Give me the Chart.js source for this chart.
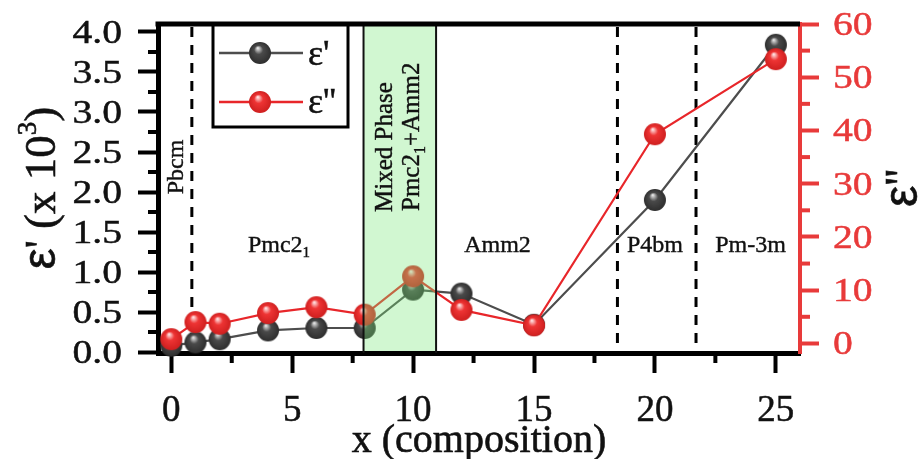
<!DOCTYPE html>
<html>
<head>
<meta charset="utf-8">
<script src="https://cdn.jsdelivr.net/npm/chart.js@4.4.0/dist/chart.umd.min.js"></script>
<style>
  html, body { margin: 0; padding: 0; background: #fff; }
  #wrap { width: 922px; height: 459px; position: relative; }
  .probe { position: absolute; left: -9999px; top: 0; }
</style>
</head>
<body>
<div id="wrap"><canvas id="c" width="922" height="459"></canvas></div>
<span class="probe" style="font-family:'Liberation Serif'">Pmc2 0.5 ε</span>
<span class="probe" style="font-family:'Liberation Sans'">ε</span>
<script>
// Composition x and dielectric constants
const composition = [0, 1, 2, 4, 6, 8, 10, 12, 15, 20, 25];
const epsReal = [0.08, 0.12, 0.16, 0.27, 0.30, 0.30, 0.78, 0.73, 0.34, 1.90, 3.84];   // ε' (x 10^3)
const epsImag = [0.8, 4.0, 3.7, 5.7, 6.8, 5.4, 12.6, 6.3, 3.4, 39.3, 53.4];            // ε''

// Axis ticks
const xTicks = [0, 5, 10, 15, 20, 25];
const leftTicks = [0, 0.5, 1.0, 1.5, 2.0, 2.5, 3.0, 3.5, 4.0];
const rightTicks = [0, 10, 20, 30, 40, 50, 60];

// Phase boundaries and labels
const phaseBoundaries = [0.85, 18.45, 21.7];
const mixedRegion = [7.95, 10.95];
const phaseLabels = [
  { runs: [['Pmc2', 0], ['1', 1]], x: 279, baseline: 252 },
  { runs: [['Amm2', 0]], x: 497.5, baseline: 252 },
  { runs: [['P4bm', 0]], x: 655, baseline: 252 },
  { runs: [['Pm-3m', 0]], x: 750.5, baseline: 252 }
];

const SERIF = "'Liberation Serif', 'Times New Roman', Times, serif";
const SANS = "'Liberation Sans', Arial, Helvetica, sans-serif";
const RED = '#e8262a';
const AXIS_RED = '#e83a3a';
const GREY_LINE = '#4d4d4d';
const INK = '#111';

// Shaded ball markers
function ball(light, base, dark, r) {
  const c = document.createElement('canvas');
  const s = Math.ceil(r * 2) + 2;
  c.width = c.height = s;
  const g = c.getContext('2d');
  const cx = s / 2, cy = s / 2;
  const grad = g.createRadialGradient(cx - r * 0.2, cy - r * 0.45, r * 0.04, cx, cy, r);
  grad.addColorStop(0, light);
  grad.addColorStop(0.38, base);
  grad.addColorStop(1, dark);
  g.fillStyle = grad;
  g.beginPath();
  g.arc(cx, cy, r, 0, Math.PI * 2);
  g.fill();
  return c;
}
const greyBall = ball('#e6e6e6', '#4a4a4a', '#2e2e2e', 11);
const redBall = ball('#ffe4e4', '#ee3434', '#cf1f1f', 11);

// Text runs with slight stroke for heavier print-like glyphs
function drawRuns(ctx, runs, x, y, align, stroke) {
  let total = 0;
  runs.forEach(r => { ctx.font = r.font; r.w = ctx.measureText(r.t).width; total += r.w; });
  let cx = align === 'center' ? x - total / 2 : (align === 'right' ? x - total : x);
  ctx.textAlign = 'left';
  ctx.textBaseline = 'alphabetic';
  ctx.strokeStyle = ctx.fillStyle;
  ctx.lineWidth = stroke || 0.5;
  runs.forEach(r => {
    ctx.font = r.font;
    ctx.fillText(r.t, cx, y + (r.dy || 0));
    ctx.strokeText(r.t, cx, y + (r.dy || 0));
    cx += r.w;
  });
}

function labelRuns(spec, size) {
  return spec.map(([t, sub]) => sub
    ? { t, font: `${Math.round(size * 0.62)}px ${SERIF}`, dy: size * 0.22 }
    : { t, font: `${size}px ${SERIF}`, dy: 0 });
}

const decorations = {
  id: 'decorations',
  beforeDatasetsDraw(chart) {
    const { ctx, chartArea: a, scales } = chart;
    ctx.save();
    ctx.strokeStyle = '#000';
    ctx.lineWidth = 3;
    ctx.setLineDash([10, 8]);
    phaseBoundaries.forEach(v => {
      const px = scales.x.getPixelForValue(v);
      ctx.beginPath();
      ctx.moveTo(px, a.top + 3);
      ctx.lineTo(px, a.bottom - 2);
      ctx.stroke();
    });
    ctx.restore();
  },
  afterDatasetsDraw(chart) {
    const { ctx, chartArea: a, scales } = chart;
    const x0 = scales.x.getPixelForValue(mixedRegion[0]);
    const x1 = scales.x.getPixelForValue(mixedRegion[1]);
    ctx.save();
    // mixed-phase band
    ctx.fillStyle = 'rgba(120, 232, 120, 0.34)';
    ctx.fillRect(x0, a.top + 2, x1 - x0, a.bottom - a.top - 4);
    ctx.strokeStyle = INK;
    ctx.lineWidth = 2;
    [x0, x1].forEach(px => {
      ctx.beginPath();
      ctx.moveTo(px, a.top);
      ctx.lineTo(px, a.bottom);
      ctx.stroke();
    });

    ctx.fillStyle = INK;
    // rotated labels
    const rot = (bx, by, runs, align) => {
      ctx.save();
      ctx.translate(bx, by);
      ctx.rotate(-Math.PI / 2);
      drawRuns(ctx, runs, 0, 0, align, 0.4);
      ctx.restore();
    };
    rot(183, 167, labelRuns([['Pbcm', 0]], 24), 'center');
    rot(392, 212, labelRuns([['Mixed Phase', 0]], 25), 'left');
    rot(419, 211, labelRuns([['Pmc2', 0], ['1', 1], ['+Amm2', 0]], 25), 'left');

    ctx.fillStyle = INK;
    phaseLabels.forEach(p => drawRuns(ctx, labelRuns(p.runs, 24), p.x, p.baseline, 'center', 0.4));

    // legend
    const lx0 = 213, ly0 = 24, lx1 = 348, ly1 = 127;
    ctx.fillStyle = '#fff';
    ctx.fillRect(lx0, ly0, lx1 - lx0, ly1 - ly0);
    ctx.strokeStyle = '#000';
    ctx.lineWidth = 3;
    ctx.strokeRect(lx0, ly0, lx1 - lx0, ly1 - ly0);
    const entries = [
      { color: GREY_LINE, img: greyBall, y: 53, text: "ε'", base: 65 },
      { color: RED, img: redBall, y: 102, text: "ε''", base: 113 }
    ];
    entries.forEach(e => {
      ctx.strokeStyle = e.color;
      ctx.lineWidth = 2.5;
      ctx.beginPath();
      ctx.moveTo(219, e.y);
      ctx.lineTo(303, e.y);
      ctx.stroke();
      ctx.drawImage(e.img, 260 - e.img.width / 2, e.y - e.img.height / 2);
      ctx.fillStyle = INK;
      drawRuns(ctx, [{ t: e.text, font: `36px ${SERIF}` }], 308, e.base, 'left', 0.5);
    });

    // top frame line
    ctx.strokeStyle = '#000';
    ctx.lineWidth = 5;
    ctx.beginPath();
    ctx.moveTo(a.left - 2.5, a.top);
    ctx.lineTo(a.right, a.top);
    ctx.stroke();
    ctx.restore();
  },
  afterDraw(chart) {
    const { ctx, chartArea: a, scales } = chart;
    ctx.save();
    // minor ticks
    const minor = (ticks) => ticks.slice(1).map((v, i) => (v + ticks[i]) / 2);
    ctx.lineWidth = 4;
    ctx.strokeStyle = '#000';
    minor(leftTicks).forEach(v => {
      const py = scales.y.getPixelForValue(v);
      ctx.beginPath(); ctx.moveTo(a.left - 10, py); ctx.lineTo(a.left, py); ctx.stroke();
    });
    minor(xTicks).forEach(v => {
      const px = scales.x.getPixelForValue(v);
      ctx.beginPath(); ctx.moveTo(px, a.bottom); ctx.lineTo(px, a.bottom + 10); ctx.stroke();
    });
    ctx.strokeStyle = AXIS_RED;
    minor(rightTicks).forEach(v => {
      const py = scales.y2.getPixelForValue(v);
      ctx.beginPath(); ctx.moveTo(a.right, py); ctx.lineTo(a.right + 10, py); ctx.stroke();
    });

    // y tick labels (wide serif digits)
    const wideLabel = (text, x, y, align, color) => {
      ctx.save();
      ctx.translate(x, y);
      ctx.scale(1.2, 1);
      ctx.fillStyle = color;
      drawRuns(ctx, [{ t: text, font: `33px ${SERIF}` }], 0, 0, align, 0.5);
      ctx.restore();
    };
    leftTicks.forEach(v => wideLabel(v.toFixed(1), 122, scales.y.getPixelForValue(v) + 11, 'right', INK));
    rightTicks.forEach(v => wideLabel(String(v), 833, scales.y2.getPixelForValue(v) + 11, 'left', AXIS_RED));

    // axis titles
    ctx.fillStyle = INK;
    drawRuns(ctx, [{ t: 'x (composition)', font: `40px ${SERIF}` }], (a.left + a.right) / 2, 452, 'center', 0.6);
    const rotTitle = (bx, cy, runs) => {
      ctx.save();
      ctx.translate(bx, cy);
      ctx.rotate(-Math.PI / 2);
      ctx.fillStyle = INK;
      drawRuns(ctx, runs, 0, 0, 'center', 0.6);
      ctx.restore();
    };
    rotTitle(55, 188, [
      { t: 'ε', font: `47px ${SANS}` },
      { t: "' (x 10", font: `45px ${SERIF}` },
      { t: '3', font: `27px ${SERIF}`, dy: -19 },
      { t: ')', font: `45px ${SERIF}` }
    ]);
    rotTitle(917, 188, [
      { t: 'ε', font: `48px ${SANS}` },
      { t: "''", font: `46px ${SERIF}` }
    ]);
    ctx.restore();
  }
};

const toPoints = (ys) => composition.map((x, i) => ({ x, y: ys[i] }));

function build() {
  new Chart(document.getElementById('c'), {
    type: 'line',
    data: {
      datasets: [
        {
          label: "ε''",
          data: toPoints(epsImag),
          yAxisID: 'y2',
          borderColor: RED,
          borderWidth: 2.2,
          pointStyle: redBall,
          pointRadius: 11,
          order: 0,
          clip: false,
          tension: 0
        },
        {
          label: "ε'",
          data: toPoints(epsReal),
          yAxisID: 'y',
          borderColor: GREY_LINE,
          borderWidth: 2.2,
          pointStyle: greyBall,
          pointRadius: 11,
          order: 1,
          clip: false,
          tension: 0
        }
      ]
    },
    options: {
      responsive: false,
      animation: false,
      devicePixelRatio: 1,
      layout: { padding: { top: 24, left: 0, right: 0, bottom: 0 } },
      plugins: { legend: { display: false }, tooltip: { enabled: false } },
      scales: {
        x: {
          type: 'linear',
          position: 'bottom',
          min: -0.55,
          max: 26,
          afterBuildTicks: s => { s.ticks = xTicks.map(v => ({ value: v })); },
          afterFit: s => { s.height = 459 - 353; },
          grid: { display: true, drawOnChartArea: false, drawTicks: true, tickLength: 20, tickWidth: 4, tickColor: '#000' },
          border: { display: true, width: 5, color: '#000' },
          ticks: { font: { family: SERIF, size: 37 }, color: INK, padding: 16, maxRotation: 0,
                   textStrokeColor: INK, textStrokeWidth: 0.5 }
        },
        y: {
          type: 'linear',
          position: 'left',
          min: -0.0125,
          max: 4.1,
          afterBuildTicks: s => { s.ticks = leftTicks.map(v => ({ value: v })); },
          afterFit: s => { s.width = 158; },
          grid: { display: true, drawOnChartArea: false, drawTicks: true, tickLength: 20, tickWidth: 4, tickColor: '#000' },
          border: { display: true, width: 5, color: '#000' },
          ticks: { display: false }
        },
        y2: {
          type: 'linear',
          position: 'right',
          min: -1.8,
          max: 60,
          afterBuildTicks: s => { s.ticks = rightTicks.map(v => ({ value: v })); },
          afterFit: s => { s.width = 922 - 800; },
          grid: { display: true, drawOnChartArea: false, drawTicks: true, tickLength: 19, tickWidth: 4, tickColor: AXIS_RED },
          border: { display: true, width: 4, color: AXIS_RED },
          ticks: { display: false }
        }
      }
    },
    plugins: [decorations]
  });
}

const fontLoads = [
  document.fonts.load("33px 'Liberation Serif'"),
  document.fonts.load("48px 'Liberation Sans'")
];
Promise.all(fontLoads).then(build, build);
</script>
</body>
</html>
